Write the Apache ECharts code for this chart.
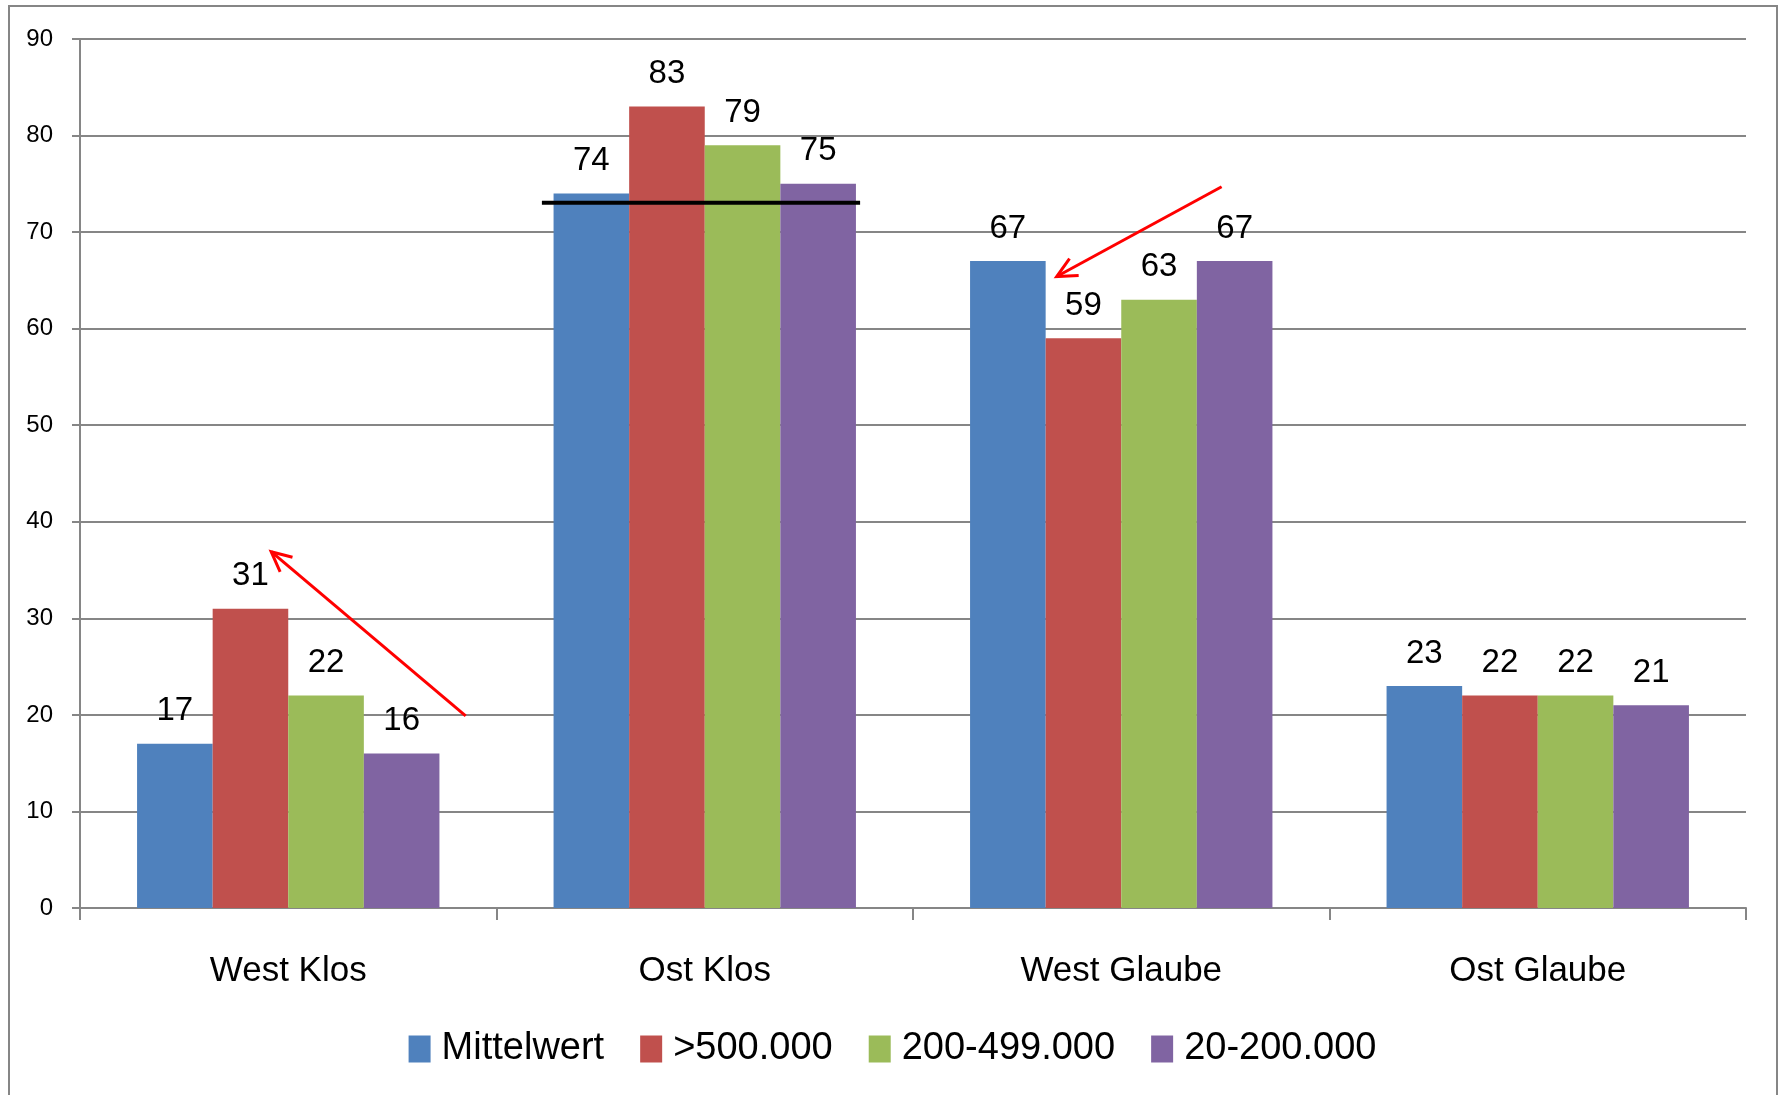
<!DOCTYPE html>
<html>
<head>
<meta charset="utf-8">
<script src="https://cdn.jsdelivr.net/npm/echarts@6/dist/echarts.min.js"></script>
<style>
    html, body { margin: 0; padding: 0; background: #fff; }
    #chart { width: 1785px; height: 1095px; }
</style>
</head>
<body>
<div id="chart"></div>
<script>
var categories = ['West Klos', 'Ost Klos', 'West Glaube', 'Ost Glaube'];
var seriesNames = ['Mittelwert', '>500.000', '200-499.000', '20-200.000'];
var mittelwert = [17, 74, 67, 23];
var ueber500 = [31, 83, 59, 22];
var von200bis499 = [22, 79, 63, 22];
var von20bis200 = [16, 75, 67, 21];
var yTicks = [0, 10, 20, 30, 40, 50, 60, 70, 80, 90];

// Anmerkungen: Kategorie-Index, Versatz in Kategoriebreiten, Wert
var blackLine = {cat: 1, from: -0.391, to: 0.373, value: 73.05};
var arrows = [
    {cat: 0, x1: 0.426, y1: 19.9, x2: -0.041, y2: 36.9},
    {cat: 2, x1: 0.241, y1: 74.7, x2: -0.155, y2: 65.4}
];

var colors = ['#4F81BD', '#C0504D', '#9BBB59', '#8064A2'];
var font = '"Liberation Sans", Arial, sans-serif';
var gray = '#868686';

var allValues = [mittelwert, ueber500, von200bis499, von20bis200];
var series = [];
for (var i = 0; i < seriesNames.length; i++) {
    series.push({
        name: seriesNames[i],
        type: 'bar',
        data: allValues[i],
        barGap: '0%',
        barCategoryGap: '27.4%',
        itemStyle: {color: colors[i]},
        label: {
            show: true,
            position: 'top',
            distance: 16,
            color: '#000',
            fontFamily: font,
            fontSize: 33
        }
    });
}

var chart = echarts.init(document.getElementById('chart'), null, {renderer: 'canvas'});
chart.setOption({
    animation: false,
    textStyle: {fontFamily: font},
    grid: {left: 80, right: 39, top: 39, bottom: 187, containLabel: false},
    legend: {
        data: seriesNames,
        bottom: 22,
        left: 'center',
        itemWidth: 22,
        itemHeight: 27,
        itemGap: 36,
        icon: 'rect',
        textStyle: {fontFamily: font, fontSize: 38, color: '#000', padding: [0, 0, 0, 6]}
    },
    xAxis: {
        type: 'category',
        data: categories,
        axisLine: {lineStyle: {color: gray, width: 2}},
        axisTick: {show: true, length: 12, lineStyle: {color: gray, width: 2}},
        axisLabel: {color: '#000', fontSize: 35, fontFamily: font, margin: 46}
    },
    yAxis: {
        type: 'value',
        min: yTicks[0],
        max: yTicks[yTicks.length - 1],
        interval: 10,
        axisLine: {show: true, lineStyle: {color: gray, width: 2}},
        axisTick: {show: true, length: 8, lineStyle: {color: gray, width: 2}},
        splitLine: {lineStyle: {color: gray, width: 2}},
        axisLabel: {color: '#000', fontSize: 24, fontFamily: font, margin: 27}
    },
    series: series
});

function toPixel(cat, offset, value) {
    var p0 = chart.convertToPixel({gridIndex: 0}, [0, 0]);
    var p1 = chart.convertToPixel({gridIndex: 0}, [1, 0]);
    var band = p1[0] - p0[0];
    var p = chart.convertToPixel({gridIndex: 0}, [cat, value]);
    return [p[0] + offset * band, p[1]];
}

var graphics = [{
    type: 'rect',
    shape: {x: 9, y: 6, width: 1768, height: 1200},
    style: {fill: 'none', stroke: gray, lineWidth: 2},
    silent: true
}];

var a = toPixel(blackLine.cat, blackLine.from, blackLine.value);
var b = toPixel(blackLine.cat, blackLine.to, blackLine.value);
graphics.push({
    type: 'line',
    shape: {x1: a[0], y1: a[1], x2: b[0], y2: b[1]},
    style: {stroke: '#000', lineWidth: 4},
    z: 100
});

arrows.forEach(function (ar) {
    var s = toPixel(ar.cat, ar.x1, ar.y1);
    var e = toPixel(ar.cat, ar.x2, ar.y2);
    var ang = Math.atan2(s[1] - e[1], s[0] - e[0]);
    var len = 22, spread = 0.45;
    graphics.push({
        type: 'line',
        shape: {x1: s[0], y1: s[1], x2: e[0], y2: e[1]},
        style: {stroke: '#ff0000', lineWidth: 3},
        z: 100
    });
    graphics.push({
        type: 'polyline',
        shape: {points: [
            [e[0] + len * Math.cos(ang + spread), e[1] + len * Math.sin(ang + spread)],
            [e[0], e[1]],
            [e[0] + len * Math.cos(ang - spread), e[1] + len * Math.sin(ang - spread)]
        ]},
        style: {stroke: '#ff0000', lineWidth: 3, fill: 'none'},
        z: 100
    });
});

chart.setOption({graphic: graphics});
</script>
</body>
</html>
